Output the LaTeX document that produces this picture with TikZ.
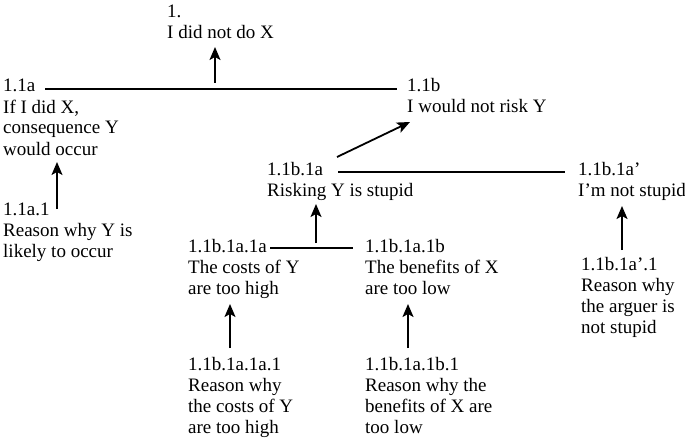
\documentclass[tikz,border=0pt]{standalone}
\usepackage{fontspec}
\setmainfont{Liberation Serif}
\usetikzlibrary{arrows.meta}
\begin{document}
\begin{tikzpicture}[x=1pt,y=-1pt,
  txt/.style={anchor=base west,inner sep=0pt,align=left,
    font=\fontsize{19}{21}\selectfont},
  conn/.style={line width=1.8pt},
  arr/.style={line width=1.8pt,-{Stealth[length=13pt,width=11pt,inset=3pt]}}]
\useasboundingbox (0,0) rectangle (685,441);
% text nodes (anchored at the baseline of their last line)
\node[txt] (n1) at (167,39) {1.\\I did not do X};
\node[txt] (n11a) at (3,155) {1.1a\\If I did X,\\consequence Y\\would occur};
\node[txt] (n11b) at (407,113) {1.1b\\I would not risk Y};
\node[txt] (n11a1) at (3,257) {1.1a.1\\Reason why Y is\\likely to occur};
\node[txt] (n1b1a) at (267,196) {1.1b.1a\\Risking Y is stupid};
\node[txt] (n1b1ap) at (578,196) {1.1b.1a’\\I’m not stupid};
\node[txt] (n1a1a) at (188,294) {1.1b.1a.1a\\The costs of Y\\are too high};
\node[txt] (n1a1b) at (365,294) {1.1b.1a.1b\\The benefits of X\\are too low};
\node[txt] (n1ap1) at (581,333) {1.1b.1a’.1\\Reason why\\the arguer is\\not stupid};
\node[txt] (n1a1a1) at (188,433) {1.1b.1a.1a.1\\Reason why\\the costs of Y\\are too high};
\node[txt] (n1a1b1) at (365,433) {1.1b.1a.1b.1\\Reason why the\\benefits of X are\\too low};
% connector coordinates
\coordinate (l1a) at (45,89);
\coordinate (l1b) at (397,89);
\coordinate (a1s) at (215,83);
\coordinate (a1e) at (215,47);
\coordinate (l2a) at (338,172);
\coordinate (l2b) at (565,172);
\coordinate (a2s) at (337,157);
\coordinate (a2e) at (410,122);
\coordinate (a3s) at (316,243);
\coordinate (a3e) at (316,204);
\coordinate (l3a) at (270,248);
\coordinate (l3b) at (353,248);
\coordinate (a4s) at (622,250);
\coordinate (a4e) at (622,206);
\coordinate (a5s) at (230,348);
\coordinate (a5e) at (230,304);
\coordinate (a6s) at (408,348);
\coordinate (a6e) at (408,304);
\coordinate (a7s) at (57,209);
\coordinate (a7e) at (57,162);
% connectors
\draw[conn] (l1a) -- (l1b);
\draw[arr] (a1s) -- (a1e);
\draw[conn] (l2a) -- (l2b);
\draw[arr] (a2s) -- (a2e);
\draw[arr] (a3s) -- (a3e);
\draw[conn] (l3a) -- (l3b);
\draw[arr] (a4s) -- (a4e);
\draw[arr] (a5s) -- (a5e);
\draw[arr] (a6s) -- (a6e);
\draw[arr] (a7s) -- (a7e);
\end{tikzpicture}
\end{document}
